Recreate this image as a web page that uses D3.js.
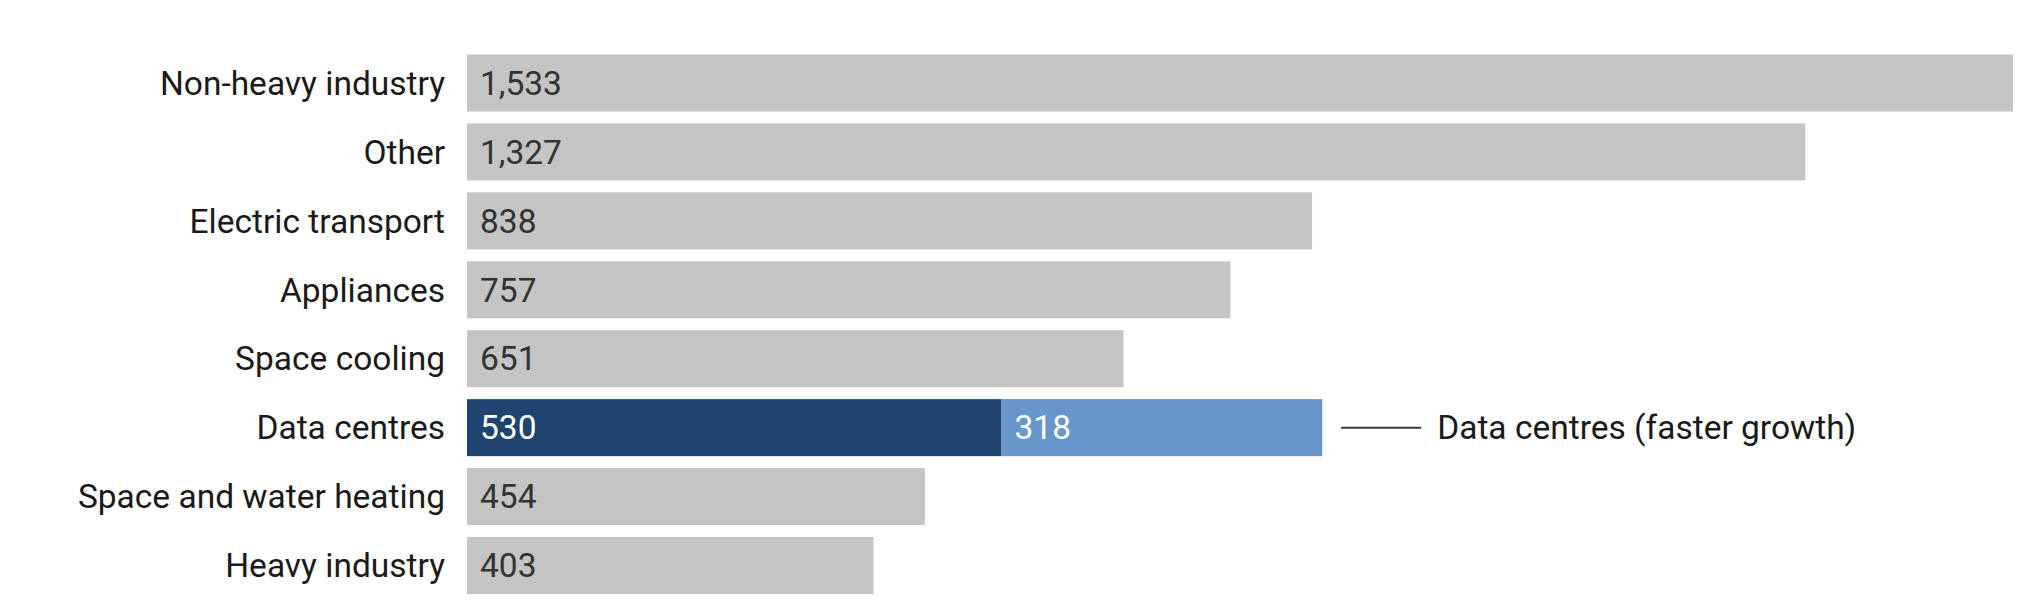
<!DOCTYPE html>
<meta charset="utf-8">
<html>
<head>
  <script src="https://cdn.jsdelivr.net/npm/d3@7"></script>
  <style>
    body { margin: 0; background: #fff; }
    text { font-family: Roboto, "Noto Sans", sans-serif; }
  </style>
</head>
<body>
  <svg id="svg" width="2034" height="608"></svg>
  <script>
    // Data
    var categories = ["Non-heavy industry", "Other", "Electric transport", "Appliances",
      "Space cooling", "Data centres", "Space and water heating", "Heavy industry"];
    var values = [1533, 1327, 838, 757, 651, 530, 454, 403];
    // extra growth stacked on top of the base value
    var extra = [0, 0, 0, 0, 0, 318, 0, 0];
    var highlight = "Data centres";
    var extraLabel = "Data centres (faster growth)";

    var rows = categories.map(function (c, i) {
      return { cat: c, value: values[i], extra: extra[i] };
    });

    var svg = d3.select("#svg");

    var x = d3.scaleLinear()
      .domain([0, 1533])
      .range([467, 2013]);

    var y = d3.scaleBand()
      .domain(categories)
      .range([54.5 - 6, 594 + 6])
      .paddingInner(0.173)
      .paddingOuter(0.087);

    var fontSize = 33.5;

    // base bars
    svg.append("g").selectAll("rect")
      .data(rows)
      .enter()
      .append("rect")
      .attr("x", x(0))
      .attr("y", function (d) { return y(d.cat); })
      .attr("width", function (d) { return x(d.value) - x(0); })
      .attr("height", y.bandwidth())
      .attr("fill", function (d) { return d.cat === highlight ? "#1f446f" : "#c4c4c4"; });

    // extra (faster growth) segments
    var ext = rows.filter(function (d) { return d.extra > 0; });
    svg.append("g").selectAll("rect")
      .data(ext)
      .enter()
      .append("rect")
      .attr("x", function (d) { return x(d.value); })
      .attr("y", function (d) { return y(d.cat); })
      .attr("width", function (d) { return x(d.value + d.extra) - x(d.value); })
      .attr("height", y.bandwidth())
      .attr("fill", "#6896cc");

    var fmt = d3.format(",");

    // category labels
    svg.append("g").selectAll("text")
      .data(rows)
      .enter()
      .append("text")
      .attr("x", x(0) - 22)
      .attr("y", function (d) { return y(d.cat) + y.bandwidth() / 2; })
      .attr("dy", "0.35em")
      .attr("text-anchor", "end")
      .attr("font-size", fontSize)
      .attr("fill", "#1a1a1a")
      .text(function (d) { return d.cat; });

    // value labels
    svg.append("g").selectAll("text")
      .data(rows)
      .enter()
      .append("text")
      .attr("x", x(0) + 13)
      .attr("y", function (d) { return y(d.cat) + y.bandwidth() / 2; })
      .attr("dy", "0.35em")
      .attr("font-size", fontSize)
      .attr("fill", function (d) { return d.cat === highlight ? "#ffffff" : "#333333"; })
      .text(function (d) { return fmt(d.value); });

    svg.append("g").selectAll("text")
      .data(ext)
      .enter()
      .append("text")
      .attr("x", function (d) { return x(d.value) + 13; })
      .attr("y", function (d) { return y(d.cat) + y.bandwidth() / 2; })
      .attr("dy", "0.35em")
      .attr("font-size", fontSize)
      .attr("fill", "#ffffff")
      .text(function (d) { return fmt(d.extra); });

    // annotation for the extra segment
    var ann = svg.append("g").selectAll("g")
      .data(ext)
      .enter()
      .append("g")
      .attr("transform", function (d) {
        return "translate(" + x(d.value + d.extra) + "," + (y(d.cat) + y.bandwidth() / 2) + ")";
      });
    ann.append("line")
      .attr("x1", 19)
      .attr("x2", 99)
      .attr("stroke", "#3a3a3a")
      .attr("stroke-width", 2);
    ann.append("text")
      .attr("x", 115)
      .attr("dy", "0.35em")
      .attr("font-size", fontSize)
      .attr("fill", "#1a1a1a")
      .text(extraLabel);
  </script>
</body>
</html>
